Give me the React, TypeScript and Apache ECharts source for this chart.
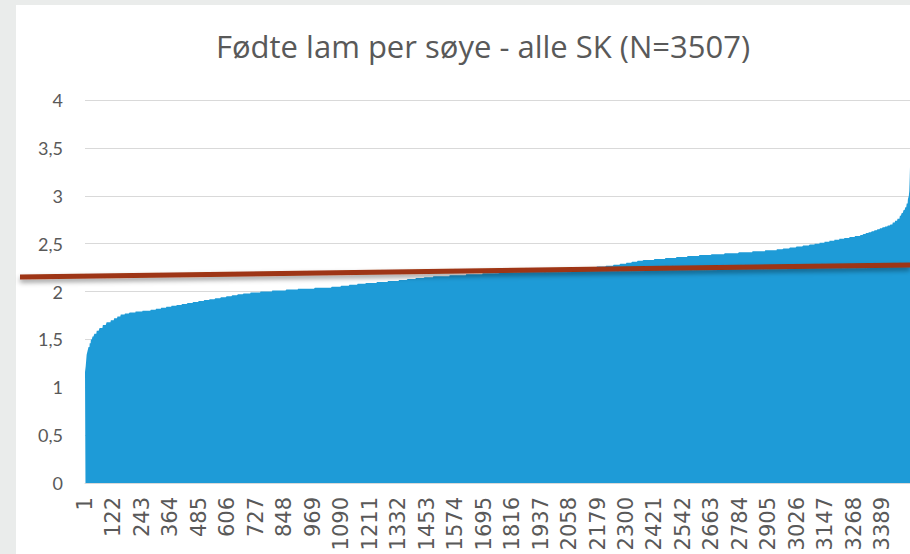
import React, { useEffect, useRef } from "react";
import * as echarts from "echarts";

const TITLE = "Fødte lam per søye - alle SK (N=3507)";
// Sorted values: value and how many ewes share it
const runValues = [
  1.16, 1.22, 1.28, 1.34, 1.38, 1.42, 1.46, 1.5, 1.53, 1.56, 1.59, 1.62, 1.65, 1.68, 1.7, 1.72,
  1.74, 1.76, 1.77, 1.78, 1.79, 1.8, 1.81, 1.82, 1.83, 1.84, 1.85, 1.86, 1.87, 1.88, 1.89, 1.9,
  1.91, 1.92, 1.93, 1.94, 1.95, 1.96, 1.97, 1.98, 1.99, 2.0, 2.01, 2.02, 2.03, 2.04, 2.05, 2.06,
  2.07, 2.08, 2.09, 2.1, 2.11, 2.12, 2.13, 2.14, 2.15, 2.16, 2.17, 2.18, 2.19, 2.2, 2.21, 2.22,
  2.23, 2.24, 2.25, 2.26, 2.27, 2.28, 2.29, 2.3, 2.31, 2.32, 2.33, 2.34, 2.35, 2.36, 2.37, 2.38,
  2.39, 2.4, 2.41, 2.42, 2.43, 2.44, 2.45, 2.46, 2.47, 2.48, 2.49, 2.5, 2.51, 2.52, 2.53, 2.54,
  2.55, 2.56, 2.57, 2.58, 2.59, 2.6, 2.61, 2.62, 2.63, 2.64, 2.65, 2.66, 2.67, 2.68, 2.69, 2.7,
  2.72, 2.74, 2.76, 2.79, 2.82, 2.85, 2.88, 2.92, 2.96, 3.0, 3.05, 3.12, 3.2, 3.3,
];
const runCounts = [
  3, 2, 2, 4, 4, 5, 5, 7, 8, 10, 12, 14, 16, 18, 14, 14,
  14, 18, 20, 25, 30, 35, 22, 22, 22, 22, 22, 22, 24, 24, 24, 23,
  23, 24, 24, 24, 24, 24, 24, 30, 42, 50, 60, 49, 72, 72, 40, 35,
  35, 35, 47, 47, 47, 36, 36, 36, 37, 70, 70, 70, 70, 90, 85, 80,
  60, 55, 45, 40, 32, 28, 26, 24, 24, 24, 47, 47, 47, 47, 50, 52,
  56, 60, 58, 54, 49, 28, 28, 28, 28, 28, 21, 21, 21, 21, 21, 21,
  21, 23, 23, 23, 12, 12, 12, 12, 12, 12, 11, 11, 11, 11, 11, 10,
  10, 10, 10, 8, 8, 7, 6, 5, 4, 2, 1, 1, 1, 1,
];
const yTicks = { min: 0, max: 4, interval: 0.5 };
const labelEvery = 121;

const values: number[] = [];
runValues.forEach((v, i) => {
  for (let k = 0; k < runCounts[i]; k++) values.push(v);
});
const categories: string[] = values.map((_, i) => String(i + 1));

export default function App() {
  const ref = useRef<HTMLDivElement>(null);
  useEffect(() => {
    document.body.style.margin = "0";
    if (!ref.current) return;
    const chart = echarts.init(ref.current, undefined, { renderer: "svg" });
    chart.setOption({
      animation: false,
      backgroundColor: "#eaeceb",
      title: {
        text: TITLE,
        left: 478,
        textAlign: "center",
        top: 25,
        textStyle: {
          fontFamily: "Open Sans",
          fontWeight: "normal",
          fontSize: 31,
          color: "#595959",
        },
      },
      graphic: {
        elements: [
          {
            type: "rect",
            z: -100,
            silent: true,
            shape: { x: 16, y: 5, width: 900, height: 560 },
            style: { fill: "#ffffff" },
          },
          {
            type: "line",
            z: 100,
            silent: true,
            shape: { x1: 20, y1: 277, x2: 910, y2: 265 },
            style: {
              stroke: "#9e3412",
              lineWidth: 5,
              shadowBlur: 5,
              shadowOffsetY: 3,
              shadowColor: "rgba(0,0,0,0.4)",
            },
          },
        ],
      },
      grid: { left: 85, right: 0, top: 100, bottom: 71 },
      xAxis: {
        type: "category",
        data: categories,
        boundaryGap: false,
        axisTick: { show: false },
        axisLine: { show: true, lineStyle: { color: "#d9d9d9" } },
        axisLabel: {
          interval: labelEvery - 1,
          rotate: 90,
          margin: 14,
          fontFamily: "DejaVu Sans",
          fontSize: 21,
          color: "#595959",
        },
        splitLine: { show: false },
      },
      yAxis: {
        type: "value",
        min: yTicks.min,
        max: yTicks.max,
        interval: yTicks.interval,
        axisLine: { show: false },
        axisTick: { show: false },
        axisLabel: {
          margin: 22,
          fontFamily: "Lato",
          fontSize: 18,
          color: "#595959",
          formatter: (v: number) => String(v).replace(".", ","),
        },
        splitLine: { lineStyle: { color: "#d9d9d9", width: 1 } },
      },
      series: [
        {
          type: "line",
          data: values,
          symbol: "none",
          lineStyle: { width: 0 },
          areaStyle: { color: "#1e9bd7", opacity: 1 },
          itemStyle: { color: "#1e9bd7" },
        },
      ],
    });
    return () => chart.dispose();
  }, []);
  return <div ref={ref} style={{ width: 910, height: 554 }} />;
}
